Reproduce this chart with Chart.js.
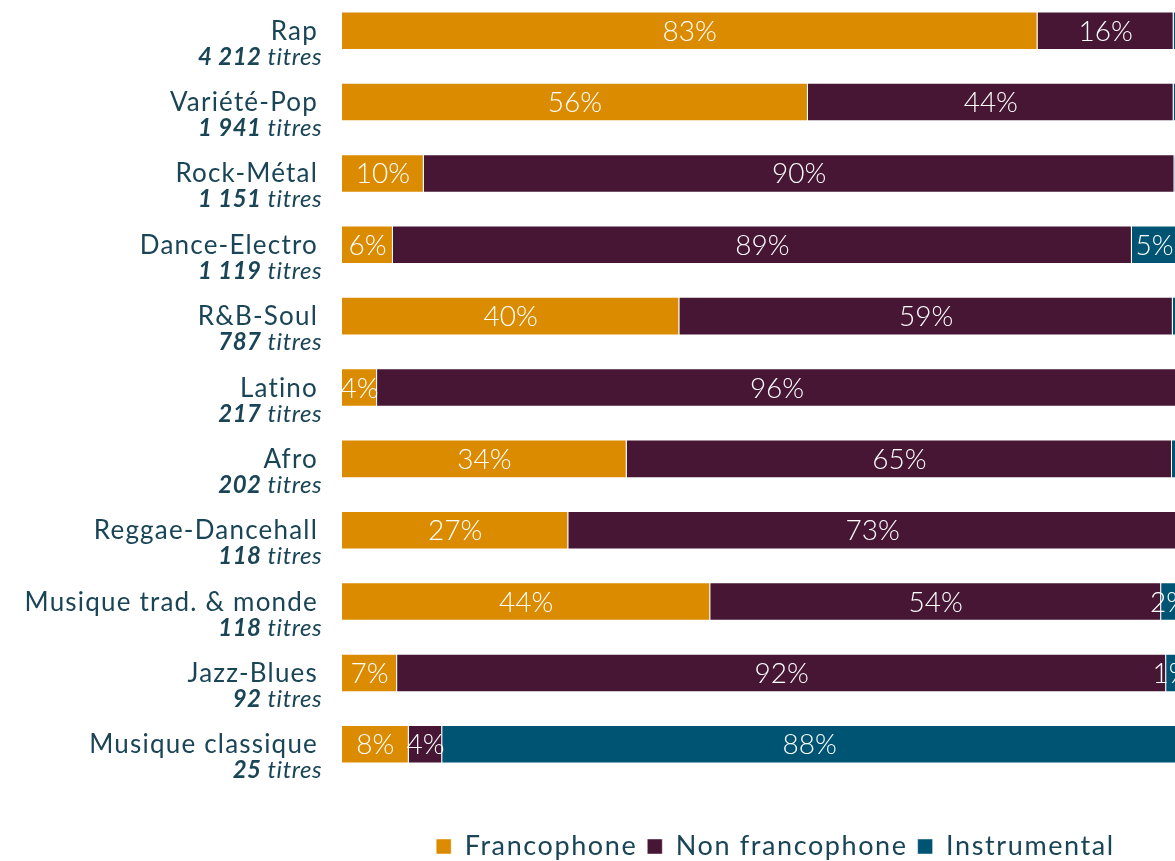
<!DOCTYPE html>
<html lang="fr">
<head>
<meta charset="utf-8">
<title>Titres par genre</title>
<script src="https://cdn.jsdelivr.net/npm/chart.js@4.4.1/dist/chart.umd.min.js"></script>
<style>
  html, body { margin: 0; padding: 0; background: #fff; overflow: hidden; }
  body { width: 1175px; height: 861px; position: relative; }
  #wrap { position: absolute; left: 0; top: -40px; width: 1180px; height: 915px; }
</style>
</head>
<body>
<div id="wrap"><canvas id="chart"></canvas></div>
<script>
// Genres and number of titles
const genres = ['Rap', 'Variété-Pop', 'Rock-Métal', 'Dance-Electro', 'R&B-Soul', 'Latino', 'Afro',
  'Reggae-Dancehall', 'Musique trad. & monde', 'Jazz-Blues', 'Musique classique']
const titleCounts = ['4 212', '1 941', '1 151', '1 119', '787', '217', '202', '118', '118', '92', '25']

// Share of titles (%) per language type
const francophone    = [83.3, 55.8,  9.8,  6.1, 40.4,  4.2, 34.1, 27.1, 44.1,  6.6,  8.0]
const nonFrancophone = [16.3, 43.8, 89.9, 88.5, 59.1, 95.8, 65.3, 72.9, 54.0, 92.1,  4.0]
const instrumental   = [ 0.4,  0.4,  0.3,  5.4,  0.5,  0.0,  0.6,  0.0,  1.9,  1.3, 88.0]

const FONT = "Lato, 'Noto Sans', sans-serif"
const TEXT_COLOR = '#1a4557'

// White percentage labels centred in each segment
const segmentLabels = {
  id: 'segmentLabels',
  afterDatasetsDraw(chart) {
    const ctx = chart.ctx
    ctx.save()
    ctx.letterSpacing = '0px'
    ctx.fillStyle = '#ffffff'
    ctx.font = `300 28px ${FONT}`
    ctx.textAlign = 'center'
    ctx.textBaseline = 'middle'
    chart.data.datasets.forEach((ds, di) => {
      chart.getDatasetMeta(di).data.forEach((bar, i) => {
        const v = ds.data[i]
        if (v < 1) return
        ctx.fillText(Math.round(v) + '%', (bar.x + bar.base) / 2, bar.y + 1)
      })
    })
    ctx.restore()
  }
}

// Category names with "N titres" underneath
const genreLabels = {
  id: 'genreLabels',
  afterDraw(chart) {
    const ctx = chart.ctx
    const yScale = chart.scales.y
    ctx.save()
    ctx.fillStyle = TEXT_COLOR
    ctx.textBaseline = 'alphabetic'
    ctx.textAlign = 'right'
    genres.forEach((name, i) => {
      const y = yScale.getPixelForValue(i)
      ctx.letterSpacing = '1.2px'
      ctx.font = `400 26px ${FONT}`
      ctx.fillText(name, 318, y + 9)

      ctx.letterSpacing = '0.5px'
      ctx.font = `italic 400 24px ${FONT}`
      const tail = ' titres'
      const w = ctx.measureText(tail).width
      ctx.fillText(tail, 322, y + 34)
      ctx.font = `italic 700 24px ${FONT}`
      ctx.fillText(titleCounts[i], 322 - w, y + 34)
    })
    ctx.restore()
  }
}

// Wider legend text, and move the legend a bit to the right like in the original
const legendTweak = {
  id: 'legendTweak',
  beforeUpdate(chart) { chart.ctx.letterSpacing = '1.6px' },
  beforeDraw(chart) { chart.ctx.letterSpacing = '1.6px' },
  afterLayout(chart) {
    chart.legend.left += 16
    chart.legend.right += 16
  }
}

const barStyle = {
  borderWidth: 1,
  borderColor: 'rgba(255, 255, 255, 0.45)',
  barPercentage: 1,
  categoryPercentage: 0.54
}

new Chart(document.getElementById('chart'), {
  type: 'bar',
  data: {
    labels: genres,
    datasets: [
      { label: 'Francophone', data: francophone, backgroundColor: '#db8b00', ...barStyle },
      { label: 'Non francophone', data: nonFrancophone, backgroundColor: '#461634', ...barStyle },
      { label: 'Instrumental', data: instrumental, backgroundColor: '#005473', ...barStyle }
    ]
  },
  options: {
    indexAxis: 'y',
    responsive: true,
    maintainAspectRatio: false,
    animation: false,
    layout: { padding: { left: 342, right: 3, top: 35, bottom: 5 } },
    scales: {
      x: {
        stacked: true,
        min: 0,
        max: 100,
        ticks: { display: false },
        grid: { display: false },
        border: { display: false },
        afterFit: (scale) => { scale.height = 43 }
      },
      y: {
        stacked: true,
        display: false
      }
    },
    plugins: {
      legend: {
        position: 'bottom',
        labels: {
          boxWidth: 15,
          boxHeight: 15,
          padding: 10,
          color: TEXT_COLOR,
          font: { family: FONT, size: 27, weight: '400' }
        }
      },
      tooltip: { enabled: false }
    }
  },
  plugins: [segmentLabels, genreLabels, legendTweak]
})
</script>
</body>
</html>
